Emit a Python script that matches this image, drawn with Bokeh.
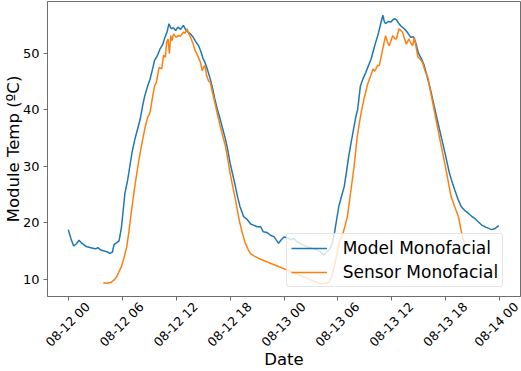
import math
import numpy as np
from bokeh.plotting import figure
from bokeh.models import Range1d, FixedTicker, Legend, LegendItem, DatetimeTickFormatter
from bokeh.embed import file_html
from bokeh.resources import INLINE

# ---------------- data (hours after 2021-08-12 00:00) ----------------
model_hours = [0.0, 0.3, 0.6, 0.9, 1.2, 1.5, 2.0, 2.5, 3.0, 3.3, 3.6, 4.0, 4.3, 4.6, 4.9, 5.1, 5.4, 5.65,
               5.9, 6.1, 6.3, 6.6, 6.85, 7.1, 7.4, 7.7, 8.0, 8.25, 8.5, 8.8, 9.1, 9.35, 9.6, 9.9, 10.2,
               10.5, 10.8, 11.0, 11.2, 11.45, 11.7, 11.95, 12.2, 12.5, 12.8, 13.05, 13.3, 13.6, 13.9,
               14.2, 14.5, 14.75, 15.0, 15.2, 15.5, 15.8, 16.05, 16.3, 16.6, 16.9, 17.2, 17.5, 17.75,
               18.0, 18.3, 18.6, 18.85, 19.1, 19.5, 19.9, 20.3, 20.6, 21.0, 21.4, 21.7, 22.1, 22.5,
               22.9, 23.2, 23.4, 23.7, 24.0, 24.4, 24.8, 25.1, 25.5, 26.0, 26.6, 27.0, 27.4, 27.7,
               28.0, 28.4, 28.7, 29.0, 29.3, 29.6, 29.85, 30.1, 30.4, 30.7, 30.95, 31.2, 31.5, 31.8,
               32.0, 32.2, 32.5, 32.8, 33.1, 33.4, 33.7, 33.95, 34.2, 34.5, 34.8, 35.0, 35.15, 35.3,
               35.6, 35.9, 36.1, 36.3, 36.5, 36.75, 37.0, 37.4, 37.8, 38.1, 38.4, 38.7, 38.95, 39.3,
               39.6, 39.9, 40.2, 40.45, 40.7, 41.0, 41.3, 41.6, 41.9, 42.15, 42.4, 42.7, 43.0, 43.35,
               43.7, 44.1, 44.5, 44.85, 45.2, 45.6, 46.0, 46.5, 47.1, 47.5, 47.9]
model_temp = [18.8, 17.2, 15.9, 16.3, 16.9, 16.4, 15.8, 15.6, 15.4, 15.6, 15.2, 15.0, 14.9, 14.6, 14.8,
              16.2, 16.5, 16.8, 19.0, 22.0, 25.2, 27.5, 30.0, 32.5, 34.7, 36.5, 38.3, 40.5, 42.4, 44.0,
              45.4, 47.0, 48.7, 49.5, 50.7, 51.5, 53.0, 53.8, 55.2, 54.3, 54.5, 54.0, 54.6, 54.2, 54.9,
              54.2, 53.7, 53.4, 52.8, 52.0, 51.3, 50.3, 49.0, 48.4, 47.0, 45.4, 43.8, 41.9, 40.0, 38.3,
              36.5, 34.7, 32.8, 30.6, 28.5, 26.4, 24.5, 22.9, 21.1, 20.6, 19.8, 19.6, 19.3, 19.3, 18.4,
              18.3, 17.8, 17.5, 16.8, 16.4, 17.0, 17.5, 17.3, 17.0, 17.2, 16.6, 16.2, 15.7, 15.6, 15.3,
              15.2, 14.9, 14.3, 14.8, 15.2, 16.0, 18.1, 20.5, 22.9, 24.7, 26.4, 29.0, 31.8, 34.5, 37.1,
              38.8, 40.1, 44.2, 45.5, 46.6, 47.8, 49.0, 50.5, 51.9, 53.5, 55.5, 56.7, 55.6, 55.2, 55.6,
              55.5, 55.9, 56.1, 55.9, 55.3, 54.8, 54.3, 53.5, 52.8, 52.9, 51.6, 50.0, 49.0, 47.8, 46.0,
              44.2, 42.5, 40.7, 38.6, 36.5, 34.5, 32.4, 30.6, 28.8, 27.2, 25.8, 24.2, 22.9, 22.2, 21.7,
              21.2, 20.8, 20.2, 19.6, 19.2, 18.8, 19.0, 19.5]

sensor_hours = [3.9, 4.3, 4.8, 5.1, 5.35, 5.6, 5.9, 6.2, 6.5, 6.75, 7.0, 7.2, 7.4, 7.7, 8.0, 8.25, 8.5,
                8.8, 9.1, 9.35, 9.6, 9.8, 10.1, 10.4, 10.6, 10.8, 10.95, 11.1, 11.25, 11.4, 11.55, 11.7,
                12.0, 12.2, 12.5, 12.8, 13.0, 13.2, 13.4, 13.6, 13.9, 14.1, 14.3, 14.5, 14.7, 14.9,
                15.05, 15.2, 15.4, 15.6, 15.8, 16.05, 16.3, 16.6, 16.9, 17.2, 17.5, 17.75, 18.0, 18.3,
                18.6, 18.85, 19.1, 19.4, 19.7, 20.0, 20.3, 20.7, 21.2, 28.1, 28.5, 29.0, 29.3, 29.6,
                29.9, 30.2, 30.5, 30.8, 31.05, 31.4, 31.8, 32.15, 32.4, 32.65, 32.9, 33.3, 33.5, 33.9,
                34.1, 34.4, 34.6, 34.8, 35.1, 35.3, 35.5, 35.7, 35.9, 36.1, 36.3, 36.5, 36.8, 37.0,
                37.2, 37.4, 37.6, 37.9, 38.1, 38.3, 38.5, 38.7, 38.9, 39.1, 39.4, 39.7, 40.0, 40.2,
                40.4, 40.65, 40.9, 41.2, 41.5, 41.8, 42.1, 42.35, 42.6, 43.0, 43.4, 43.7, 43.9, 44.2]
sensor_temp = [9.4, 9.3, 9.5, 9.9, 10.4, 11.2, 12.2, 13.8, 15.7, 18.5, 21.7, 24.0, 26.4, 29.5, 32.4,
               34.5, 36.5, 38.5, 39.5, 42.0, 44.2, 44.8, 47.5, 47.2, 49.6, 49.3, 51.9, 52.5, 49.9, 53.1,
               52.2, 53.4, 52.8, 53.1, 53.0, 53.7, 53.5, 54.3, 53.5, 52.8, 51.6, 50.5, 49.9, 49.2, 48.4,
               46.9, 47.5, 47.8, 46.0, 45.1, 44.8, 43.0, 41.3, 39.2, 37.1, 35.3, 33.5, 31.2, 28.8, 26.4,
               24.1, 21.9, 19.9, 18.0, 16.4, 15.3, 14.5, 14.1, 13.7, 9.2, 9.3, 9.5, 10.5, 12.3, 14.6,
               16.8, 17.8, 19.5, 21.1, 25.2, 30.0, 35.3, 37.8, 40.0, 41.9, 44.5, 45.4, 47.2, 46.8, 47.8,
               47.8, 49.3, 51.6, 53.1, 52.0, 51.3, 52.2, 53.1, 52.6, 52.5, 54.3, 54.0, 53.7, 52.6, 51.6,
               52.5, 51.8, 51.3, 52.8, 51.0, 49.3, 49.0, 48.4, 46.8, 45.7, 44.0, 42.4, 40.4, 38.3, 35.9,
               33.5, 31.2, 28.8, 26.6, 24.6, 22.8, 21.1, 18.7, 17.2, 16.0]

tick_hours = [0, 6, 12, 18, 24, 30, 36, 42, 48]
tick_labels = ["08-12 00", "08-12 06", "08-12 12", "08-12 18", "08-13 00",
               "08-13 06", "08-13 12", "08-13 18", "08-14 00"]
y_ticks = [10, 20, 30, 40, 50]

BASE_MS = float(np.datetime64("2021-08-12T00:00", "ms").astype(np.int64))
H_MS = 3600 * 1000.0


def to_ms(hours):
    return [BASE_MS + h * H_MS for h in hours]


FONT = "DejaVu Sans"
EDGE = "#6e6e6e"
LABEL_SHIFT_H = 2.15   # moves right-anchored rotated labels so they sit centred on the tick

y0, y1 = 6.97, 59.13
p = figure(width=521, height=371, x_axis_type="datetime", output_backend="svg",
           toolbar_location=None, min_border_left=46, min_border_right=1,
           min_border_top=1, min_border_bottom=70,
           x_range=Range1d(BASE_MS - 2.31 * H_MS, BASE_MS + 50.31 * H_MS),
           y_range=Range1d(y0, y1))
p.grid.visible = False
p.outline_line_color = EDGE
p.outline_line_width = 1
p.background_fill_color = "white"
p.border_fill_color = "white"

r_model = p.line(to_ms(model_hours), model_temp, line_color="#1f77b4", line_width=1.5)
r_sensor = p.line(to_ms(sensor_hours), sensor_temp, line_color="#ff7f0e", line_width=1.5)

# x axis: real tick marks drawn as "minor" ticks, labels on shifted "major" ticks
tick_ms = [int(round(t)) for t in to_ms(tick_hours)]
label_ms = [int(round(t + LABEL_SHIFT_H * H_MS)) for t in tick_ms]
xa = p.xaxis[0]
xa.ticker = FixedTicker(ticks=label_ms, minor_ticks=tick_ms)
xa.formatter = DatetimeTickFormatter(hours="%m-%d %H", days="%m-%d %H", hourmin="%m-%d %H")
xa.major_label_overrides = {t: s for t, s in zip(label_ms, tick_labels)}
xa.major_label_orientation = math.pi / 4
xa.major_label_text_font = FONT
xa.major_label_text_font_size = "12.5px"
xa.major_label_text_color = "black"
xa.major_label_text_line_height = 1.0
xa.major_label_standoff = 4
xa.major_tick_line_color = None
xa.major_tick_in = 0
xa.major_tick_out = 4
xa.minor_tick_line_color = EDGE
xa.minor_tick_in = 0
xa.minor_tick_out = 4
xa.axis_line_color = EDGE
xa.axis_label = "Date"
xa.axis_label_text_font = FONT
xa.axis_label_text_font_size = "16.5px"
xa.axis_label_text_font_style = "normal"
xa.axis_label_text_color = "black"
xa.axis_label_text_line_height = 1.0
xa.axis_label_standoff = -8

ya = p.yaxis[0]
ya.ticker = FixedTicker(ticks=y_ticks)
ya.axis_label = "Module Temp (ºC)"
ya.axis_label_text_font = FONT
ya.axis_label_text_font_size = "16.5px"
ya.axis_label_text_font_style = "normal"
ya.axis_label_text_color = "black"
ya.axis_label_text_line_height = 1.0
ya.axis_label_standoff = -3
ya.major_label_text_font = FONT
ya.major_label_text_font_size = "13px"
ya.major_label_text_color = "black"
ya.major_label_standoff = 4
ya.axis_line_color = EDGE
ya.major_tick_line_color = EDGE
ya.major_tick_in = 0
ya.major_tick_out = 4
ya.minor_tick_line_color = None

legend = Legend(items=[LegendItem(label="Model Monofacial", renderers=[r_model]),
                       LegendItem(label="Sensor Monofacial", renderers=[r_sensor])],
                location=(238.7, 8.7))
legend.label_text_font = FONT
legend.label_text_font_size = "17px"
legend.label_text_color = "black"
legend.glyph_width = 36
legend.glyph_height = 20
legend.label_height = 20
legend.label_standoff = 16
legend.spacing = 4
legend.padding = 4
legend.margin = 0
legend.border_line_color = "#cccccc"
legend.border_line_width = 1
legend.background_fill_color = "white"
legend.background_fill_alpha = 0.8
if "border_radius" in Legend.properties():
    legend.border_radius = 3
p.add_layout(legend)

open("out.html", "w").write(file_html(p, INLINE))
